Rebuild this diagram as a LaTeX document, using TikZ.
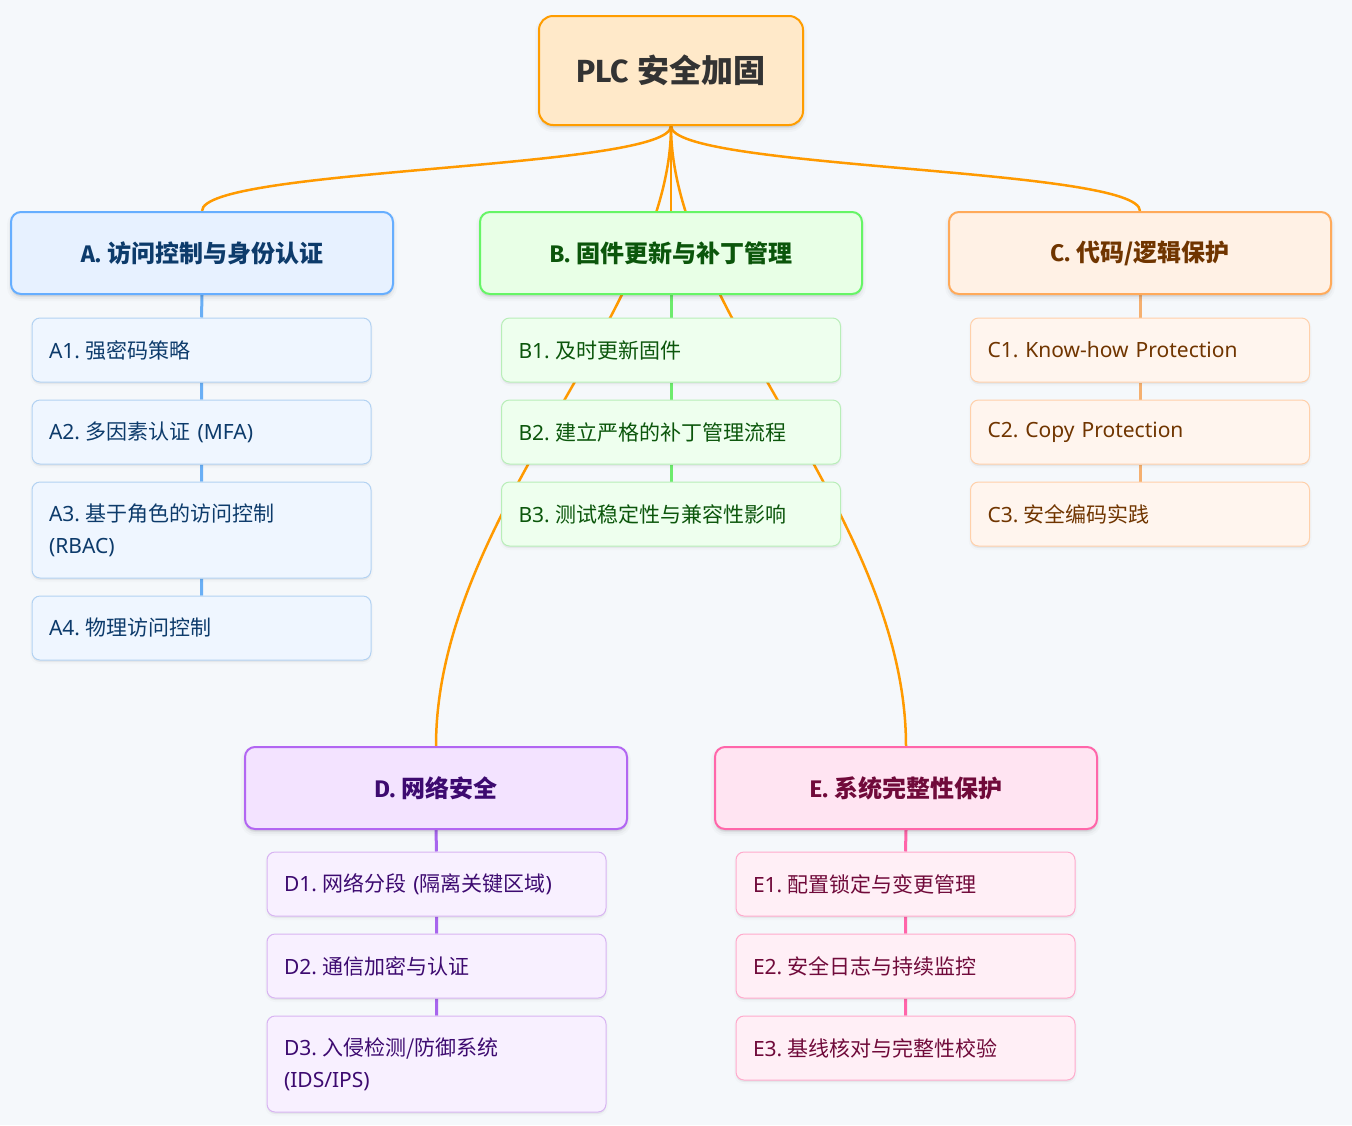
\documentclass[tikz,border=0pt]{standalone}
\usepackage{fontspec}
\setmainfont{Noto Sans}
\newfontfamily\hd{Fira Sans}
\newfontfamily\zh{Noto Sans CJK SC}
\usetikzlibrary{shadows}
\frenchspacing

% palette
\definecolor{bgc}{HTML}{F5F8FB}
\definecolor{rootfill}{HTML}{FFE9C9}
\definecolor{rootdraw}{HTML}{FF9D00}
\definecolor{rootink}{HTML}{333333}
\definecolor{trunk}{HTML}{FF9A00}
% A: blue
\definecolor{Afill}{HTML}{E7F1FF}\definecolor{Adraw}{HTML}{66AEFF}
\definecolor{Acfill}{HTML}{EFF6FF}\definecolor{Acdraw}{HTML}{B3D2F2}
\definecolor{Aink}{HTML}{0D3B6B}\definecolor{Aline}{HTML}{6AAFF5}
% B: green
\definecolor{Bfill}{HTML}{E8FFE6}\definecolor{Bdraw}{HTML}{66F566}
\definecolor{Bcfill}{HTML}{EEFFEE}\definecolor{Bcdraw}{HTML}{B8EEB8}
\definecolor{Bink}{HTML}{0B560B}\definecolor{Bline}{HTML}{6EEB6E}
% C: orange
\definecolor{Cfill}{HTML}{FFF1E5}\definecolor{Cdraw}{HTML}{FFAA5A}
\definecolor{Ccfill}{HTML}{FFF5EE}\definecolor{Ccdraw}{HTML}{FFD0AA}
\definecolor{Cink}{HTML}{703500}\definecolor{Cline}{HTML}{F5B070}
% D: purple
\definecolor{Dfill}{HTML}{F3E3FF}\definecolor{Ddraw}{HTML}{B266F2}
\definecolor{Dcfill}{HTML}{F8F0FF}\definecolor{Dcdraw}{HTML}{D8B4F2}
\definecolor{Dink}{HTML}{3D0A70}\definecolor{Dline}{HTML}{A866EE}
% E: pink
\definecolor{Efill}{HTML}{FFE4F2}\definecolor{Edraw}{HTML}{FF66AA}
\definecolor{Ecfill}{HTML}{FFEFF6}\definecolor{Ecdraw}{HTML}{FFAACC}
\definecolor{Eink}{HTML}{700A3A}\definecolor{Eline}{HTML}{FF66AA}

\pgfdeclarelayer{canvas}
\pgfdeclarelayer{links}
\pgfsetlayers{canvas,links,main}

% gap between a label number and Chinese text
\newcommand{\gap}{\hspace{0.26em}}

\tikzset{
  softshadow/.style={
    general shadow={shadow xshift=0pt, shadow yshift=-3pt, fill=black, draw=black, line width=8pt, opacity=0.02},
    general shadow={shadow xshift=0pt, shadow yshift=-3pt, fill=black, draw=black, line width=4pt, opacity=0.03},
    general shadow={shadow xshift=0pt, shadow yshift=-2pt, fill=black, opacity=0.045}},
  lightshadow/.style={
    general shadow={shadow xshift=0pt, shadow yshift=-2pt, fill=black, draw=black, line width=4pt, opacity=0.015},
    general shadow={shadow xshift=0pt, shadow yshift=-2pt, fill=black, opacity=0.035}},
  rootbox/.style={draw=rootdraw, fill=rootfill, line width=2pt, rounded corners=14pt,
    minimum width=264pt, minimum height=109pt, text=rootink, softshadow,
    font=\fontsize{32}{36}\selectfont\hd\bfseries},
  headbox/.style={line width=2pt, rounded corners=10pt, minimum width=382pt,
    minimum height=82pt, softshadow, font=\fontsize{24}{28}\selectfont\hd\bfseries},
  itembox/.style={line width=1pt, rounded corners=8pt, minimum width=339pt,
    text width=305pt, inner xsep=17pt, align=left, lightshadow,
    font=\fontsize{21}{32}\selectfont\frenchspacing,
    execute at begin node={\vphantom{\zh 国}}},
  hA/.style={headbox, draw=Adraw, fill=Afill, text=Aink},
  hB/.style={headbox, draw=Bdraw, fill=Bfill, text=Bink},
  hC/.style={headbox, draw=Cdraw, fill=Cfill, text=Cink},
  hD/.style={headbox, draw=Ddraw, fill=Dfill, text=Dink},
  hE/.style={headbox, draw=Edraw, fill=Efill, text=Eink},
  iA/.style={itembox, draw=Acdraw, fill=Acfill, text=Aink},
  iB/.style={itembox, draw=Bcdraw, fill=Bcfill, text=Bink},
  iC/.style={itembox, draw=Ccdraw, fill=Ccfill, text=Cink},
  iD/.style={itembox, draw=Dcdraw, fill=Dcfill, text=Dink},
  iE/.style={itembox, draw=Ecdraw, fill=Ecfill, text=Eink},
  trunkline/.style={draw=trunk, line width=2.5pt},
  stem/.style={line width=3pt},
}

\begin{document}
\begin{tikzpicture}[x=1pt, y=-1pt]
\begin{pgfonlayer}{canvas}
  \fill[bgc] (0,0) rectangle (1352,1125);
\end{pgfonlayer}
\useasboundingbox (0,0) rectangle (1352,1125);

% root
\node[rootbox] (root) at (671,70.5) {PLC\gap{\zh 安全加固}};

% branch headers
\node[hA] (ha) at (202,253) {A.\gap{\zh 访问控制与身份认证}};
\node[hB] (hb) at (671,253) {B.\gap{\zh 固件更新与补丁管理}};
\node[hC] (hc) at (1140,253) {C.\gap{\zh 代码/逻辑保护}};
\node[hD] (hd) at (436,788) {D.\gap{\zh 网络安全}};
\node[hE] (he) at (906,788) {E.\gap{\zh 系统完整性保护}};

% branch items
\node[iA, minimum height=64pt] (a1) at (201.5,350) {A1.\gap{\zh 强密码策略}};
\node[iA, minimum height=64pt] (a2) at (201.5,432) {A2.\gap{\zh 多因素认证} (MFA)};
\node[iA, minimum height=96pt] (a3) at (201.5,530) {A3.\gap{\zh 基于角色的访问控制}\\(RBAC)};
\node[iA, minimum height=64pt] (a4) at (201.5,628) {A4.\gap{\zh 物理访问控制}};

\node[iB, minimum height=64pt] (b1) at (671,350) {B1.\gap{\zh 及时更新固件}};
\node[iB, minimum height=64pt] (b2) at (671,432) {B2.\gap{\zh 建立严格的补丁管理流程}};
\node[iB, minimum height=64pt] (b3) at (671,514) {B3.\gap{\zh 测试稳定性与兼容性影响}};

\node[iC, minimum height=64pt] (c1) at (1140,350) {C1. Know-how Protection};
\node[iC, minimum height=64pt] (c2) at (1140,432) {C2. Copy Protection};
\node[iC, minimum height=64pt] (c3) at (1140,514) {C3.\gap{\zh 安全编码实践}};

\node[iD, minimum height=64pt] (d1) at (436.5,884) {D1.\gap{\zh 网络分段} ({\zh 隔离关键区域})};
\node[iD, minimum height=64pt] (d2) at (436.5,966) {D2.\gap{\zh 通信加密与认证}};
\node[iD, minimum height=96pt] (d3) at (436.5,1064) {D3.\gap{\zh 入侵检测/防御系统}\\(IDS/IPS)};

\node[iE, minimum height=64pt] (e1) at (905.5,884) {E1.\gap{\zh 配置锁定与变更管理}};
\node[iE, minimum height=64pt] (e2) at (905.5,966) {E2.\gap{\zh 安全日志与持续监控}};
\node[iE, minimum height=64pt] (e3) at (905.5,1048) {E3.\gap{\zh 基线核对与完整性校验}};

% connectors, kept beneath the boxes
\begin{pgfonlayer}{links}
  % root to each branch
  \draw[trunkline] (root.south) .. controls +(0,43.5) and +(0,-43.5) .. (ha.north);
  \draw[trunkline] (root.south) .. controls +(0,43.5) and +(0,-43.5) .. (hc.north);
  \draw[trunkline] (root.south) -- (hb.north);
  \draw[trunkline] (root.south) .. controls +(0,185) and +(0,-230) .. (hd.north);
  \draw[trunkline] (root.south) .. controls +(0,185) and +(0,-230) .. (he.north);
  % branch stems
  \draw[stem, Aline] (ha.south) -- (a1.north) (a1.south) -- (a2.north)
                     (a2.south) -- (a3.north) (a3.south) -- (a4.north);
  \draw[stem, Bline] (hb.south) -- (b1.north) (b1.south) -- (b2.north)
                     (b2.south) -- (b3.north);
  \draw[stem, Cline] (hc.south) -- (c1.north) (c1.south) -- (c2.north)
                     (c2.south) -- (c3.north);
  \draw[stem, Dline] (hd.south) -- (d1.north) (d1.south) -- (d2.north)
                     (d2.south) -- (d3.north);
  \draw[stem, Eline] (he.south) -- (e1.north) (e1.south) -- (e2.north)
                     (e2.south) -- (e3.north);
\end{pgfonlayer}
\end{tikzpicture}
\end{document}
